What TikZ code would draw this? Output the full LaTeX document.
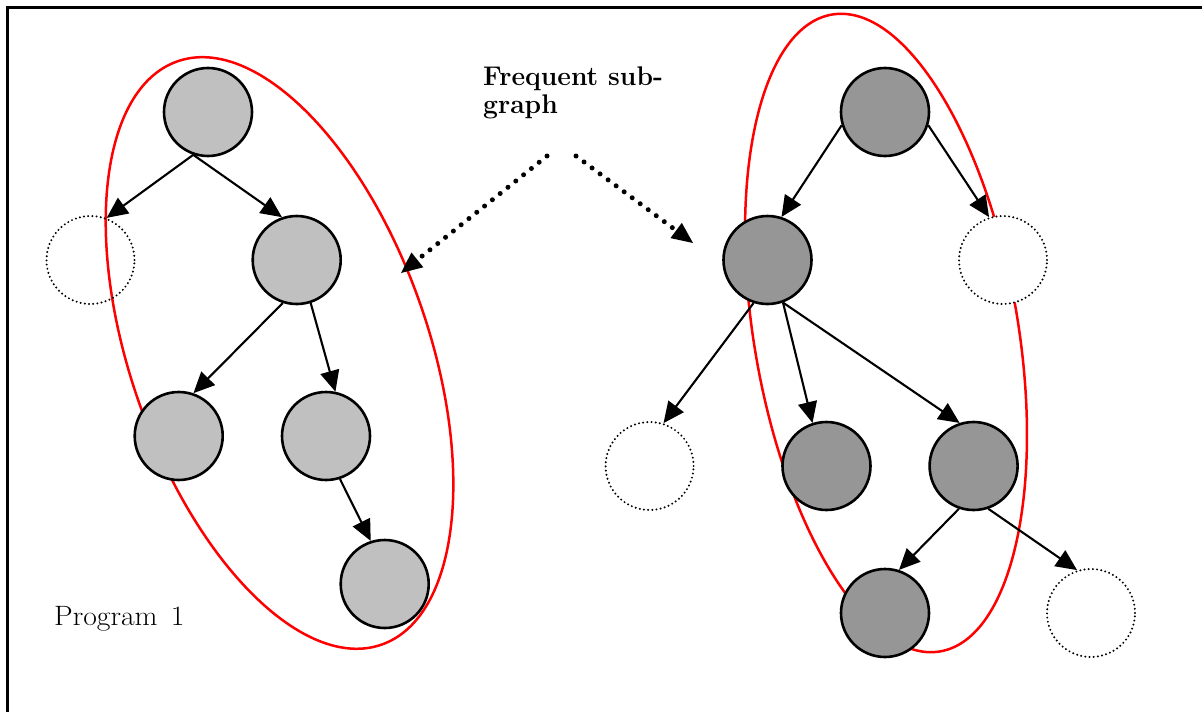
\documentclass[tikz,border=0pt]{standalone}
\usepackage{graphicx}
\usetikzlibrary{arrows.meta}
\definecolor{lgray}{RGB}{192,192,192}
\definecolor{dgray}{RGB}{150,150,150}
\begin{document}
\begin{tikzpicture}[x=1pt,y=-1pt,
  lnode/.style={circle,draw,line width=2.6pt,fill=lgray,minimum size=88pt,inner sep=0pt},
  dnode/.style={circle,draw,line width=2.6pt,fill=dgray,minimum size=88pt,inner sep=0pt},
  enode/.style={circle,draw,line width=2.2pt,line cap=round,dash pattern=on 0pt off 4.2pt,minimum size=88pt,inner sep=0pt},
  edgearrow/.style={line width=2.1pt,-{Triangle[length=21pt,width=19pt]}},
  hintarrow/.style={line width=5pt,line cap=round,dash pattern=on 0pt off 10pt,-{Triangle[length=21pt,width=19pt,line width=0pt]}},
  group/.style={draw=red,line width=2.5pt}]
\useasboundingbox (0,0) rectangle (1202,712);
\draw[line width=3pt] (7,712) -- (7,7) -- (1202,7);

% frequent sub-graph outlines
\coordinate (lc) at (279.5,353);
\coordinate (rc) at (886,333);
\draw[group, rotate around={-70.7:(lc)}] (lc) ellipse [x radius=309, y radius=149];
\draw[group, rotate around={-80.35:(rc)}] (rc) ellipse [x radius=323, y radius=132];

% program 1
\node[lnode] (A) at (208,112) {};
\node[enode] (L1) at (90.5,260) {};
\node[lnode] (B) at (296.7,260) {};
\node[lnode] (C) at (178.7,436) {};
\node[lnode] (D) at (326,436) {};
\node[lnode] (E) at (384.7,584) {};

% program 2
\node[dnode] (F) at (885,112) {};
\node[enode,fill=white] (R1) at (1003,260) {};
\node[dnode] (G) at (767.5,260) {};
\node[enode,fill=white] (R2) at (649.6,466) {};
\node[dnode] (H) at (826.5,466) {};
\node[dnode] (I) at (973.6,466) {};
\node[dnode] (J) at (885,613) {};
\node[enode,fill=white] (R3) at (1091,613) {};

\draw[edgearrow] (A.251) -- (L1.69);
\draw[edgearrow] (A.251) -- (B.109);
\draw[edgearrow] (B.252) -- (C.71);
\draw[edgearrow] (B.288) -- (D.78);
\draw[edgearrow] (D.288) -- (E.108);

\draw[edgearrow] (F.197) -- (G.72);
\draw[edgearrow] (F.343) -- (R1.108);
\draw[edgearrow] (G.252) -- (R2.72);
\draw[edgearrow] (G.290) -- (H.108);
\draw[edgearrow] (G.290) -- (I.108);
\draw[edgearrow] (I.251) -- (J.72);
\draw[edgearrow] (I.289) -- (R3.108);

% labels
\node[anchor=north west,inner sep=0pt,align=left,font=\fontsize{27}{28}\selectfont\bfseries] (fs) at (483,66.5) {\scalebox{0.98}[1]{Frequent sub-}\\\scalebox{0.98}[1]{graph}};
\coordinate (hl) at (547,156);
\coordinate (hr) at (576,156);
\coordinate (tl) at (401,273);
\coordinate (tr) at (693,243);
\draw[hintarrow] (hl) -- (tl);
\draw[hintarrow] (hr) -- (tr);

\node[anchor=base west,inner sep=0pt,font=\fontsize{28}{30}\selectfont] (p1) at (54,625) {\scalebox{1.06}[1]{Program\hspace{0.45em}1}};
\end{tikzpicture}
\end{document}
